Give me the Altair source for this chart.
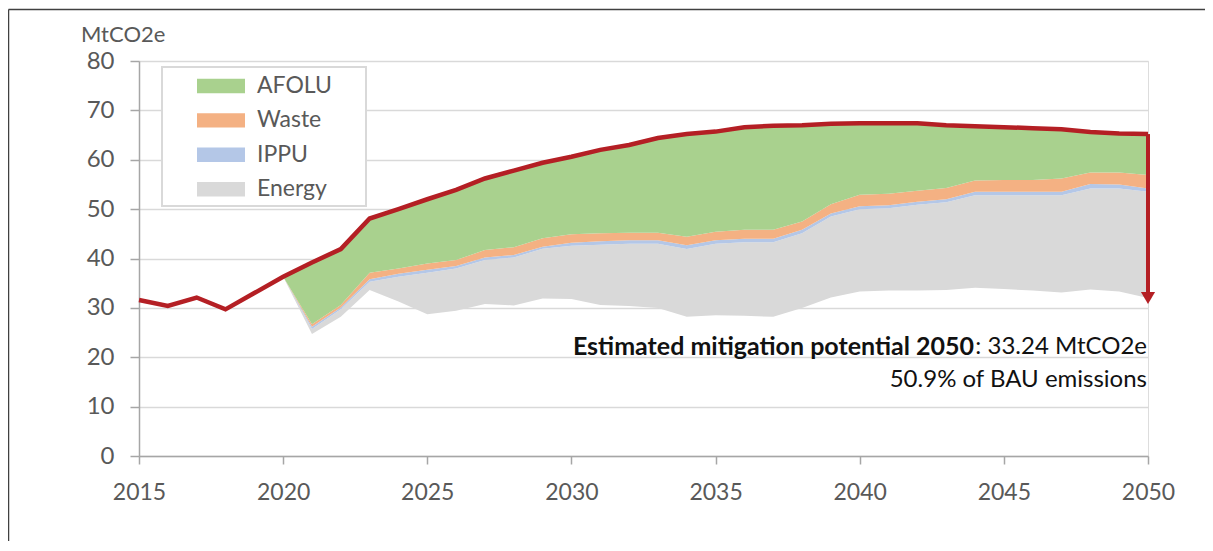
import altair as alt
import pandas as pd

# ---- data ----
bau_years = list(range(2015, 2051))
bau = [31.6, 30.4, 32.1, 29.7, 33.0, 36.3, 39.2, 41.9, 48.1, 50.0,
       52.0, 53.9, 56.2, 57.8, 59.4, 60.6, 62.0, 63.0, 64.4, 65.2,
       65.7, 66.6, 66.9, 67.0, 67.3, 67.4, 67.4, 67.4, 67.0, 66.8,
       66.6, 66.4, 66.2, 65.6, 65.3, 65.2]

years = list(range(2020, 2051))
# remaining emissions after mitigation (lower edge of the wedges)
base = [36.3, 24.7, 28.2, 33.6, 31.3, 28.7, 29.4, 30.8, 30.5, 31.9,
        31.8, 30.6, 30.4, 30.0, 28.2, 28.5, 28.4, 28.2, 30.0, 32.1,
        33.3, 33.5, 33.5, 33.6, 34.1, 33.8, 33.5, 33.1, 33.7, 33.3, 32.0]
energy = [0.0, 1.0, 1.5, 1.7, 5.0, 8.4, 8.6, 8.9, 9.7, 10.1,
          10.8, 12.2, 12.6, 13.0, 13.7, 14.5, 14.9, 15.1, 15.1, 16.4,
          16.7, 16.7, 17.4, 17.8, 18.7, 19.0, 19.3, 19.7, 20.5, 20.9, 21.5]
ippu = [0.0, 0.5, 0.4, 0.5, 0.6, 0.6, 0.5, 0.5, 0.5, 0.4,
        0.6, 0.7, 0.7, 0.7, 0.8, 0.7, 0.7, 0.7, 0.7, 0.6,
        0.6, 0.6, 0.6, 0.6, 0.7, 0.7, 0.7, 0.7, 0.9, 0.8, 0.7]
waste = [0.0, 0.5, 0.5, 1.3, 1.1, 1.3, 1.2, 1.5, 1.6, 1.7,
         1.7, 1.6, 1.5, 1.5, 1.7, 1.7, 1.8, 1.8, 1.7, 1.9,
         2.3, 2.3, 2.2, 2.3, 2.3, 2.4, 2.4, 2.7, 2.3, 2.4, 2.7]
afolu = [0.0, 12.5, 11.3, 11.0, 12.0, 13.0, 14.2, 14.5, 15.5, 15.3,
         15.7, 16.9, 17.8, 19.2, 20.8, 20.3, 20.8, 21.1, 19.5, 16.3,
         14.5, 14.3, 13.7, 12.7, 11.0, 10.7, 10.5, 10.0, 8.2, 7.9, 8.3]

sectors = ["AFOLU", "Waste", "IPPU", "Energy"]
sector_colors = ["#A9D18E", "#F4B183", "#B4C7E7", "#D9D9D9"]

annot_bold = "Estimated mitigation potential 2050"
annot_regular = ": 33.24 MtCO2e"
annot_line2 = "50.9% of BAU emissions"
unit_label = "MtCO2e"

RED = "#B41F24"
FONT = "Lato"
GREY_TXT = "#595959"

# ---- tables ----
series = {"Base": base, "Energy": energy, "IPPU": ippu, "Waste": waste, "AFOLU": afolu}
stack_order = {"Base": 0, "Energy": 1, "IPPU": 2, "Waste": 3, "AFOLU": 4}
rows = []
for name, vals in series.items():
    for yr, v in zip(years, vals):
        rows.append({"year": yr, "sector": name, "value": v, "ord": stack_order[name]})
bands_df = pd.DataFrame(rows)
bau_df = pd.DataFrame({"year": bau_years, "bau": bau})
arrow_df = pd.DataFrame({"year": [years[-1]], "top": [bau[-1]], "bottom": [base[-1]]})
one = pd.DataFrame({"a": [0]})

xscale = alt.Scale(domain=[2015, 2050], nice=False, zero=False)
yscale = alt.Scale(domain=[0, 80], nice=False)

x_axis = alt.Axis(values=list(range(2015, 2051, 5)), format="d", title=None,
                  grid=False, labelFont=FONT, labelFontSize=23, labelColor=GREY_TXT,
                  tickSize=8, tickColor="#A6A6A6", tickWidth=1.5,
                  domainColor="#A6A6A6", domainWidth=1.5, labelPadding=17,
                  labelFlush=False, labelOverlap=False)
y_axis = alt.Axis(values=list(range(0, 81, 10)), title=None, grid=True,
                  gridColor="#D9D9D9", gridWidth=1.5,
                  labelFont=FONT, labelFontSize=24, labelColor=GREY_TXT,
                  tickSize=9, tickColor="#A6A6A6", tickWidth=1.5,
                  domainColor="#A6A6A6", domainWidth=1.5, labelPadding=16)

# outer frame (left and top edges), kept inside the drawing surface
frame_top = alt.Chart(one).mark_rule(color="#404040", strokeWidth=1.5).encode(
    x=alt.value(-130.5), x2=alt.value(1066), y=alt.value(-51.5))
frame_left = alt.Chart(one).mark_rule(color="#404040", strokeWidth=1.5).encode(
    x=alt.value(-130.5), y=alt.value(-51.5), y2=alt.value(480))

legend_box = alt.Chart(one).mark_rect(fill="white", stroke="#D9D9D9", strokeWidth=2).encode(
    x=alt.value(23), x2=alt.value(227), y=alt.value(6), y2=alt.value(145))

bands = alt.Chart(bands_df).transform_stack(
    stack="value", groupby=["year"], as_=["lo", "hi"],
    sort=[alt.SortField("ord", order="ascending")]
).transform_filter(alt.datum.sector != "Base").mark_area(opacity=1, interpolate="linear").encode(
    x=alt.X("year:Q", scale=xscale, axis=x_axis),
    y=alt.Y("lo:Q", scale=yscale, axis=y_axis),
    y2="hi:Q",
    color=alt.Color("sector:N",
                    scale=alt.Scale(domain=sectors, range=sector_colors),
                    legend=alt.Legend(orient="none", legendX=70.5, legendY=13.5, title=None,
                                      symbolType="M-2.087,-0.626H2.087V0.626H-2.087Z",
                                      symbolSize=529, symbolStrokeWidth=0, symbolOpacity=1,
                                      labelFont=FONT, labelFontSize=23, labelColor=GREY_TXT,
                                      labelOffset=24.5, rowPadding=10.4, padding=0)),
)

bau_line = alt.Chart(bau_df).mark_line(color=RED, strokeWidth=4.5, strokeJoin="miter").encode(
    x=alt.X("year:Q", scale=xscale),
    y=alt.Y("bau:Q", scale=yscale),
)

arrow_shaft = alt.Chart(arrow_df).mark_rule(color=RED, strokeWidth=4).encode(
    x=alt.X("year:Q", scale=xscale),
    y=alt.Y("top:Q", scale=yscale),
    y2="bottom:Q",
)
arrow_head = alt.Chart(arrow_df).mark_point(shape="triangle-down", filled=True, color=RED,
                                            opacity=1, size=200).encode(
    x=alt.X("year:Q", scale=xscale),
    y=alt.Y("bottom:Q", scale=yscale),
)

unit_text = alt.Chart(one).mark_text(text=unit_label, font=FONT, fontSize=22, color=GREY_TXT,
                                     align="left", baseline="middle").encode(
    x=alt.value(-58), y=alt.value(-26))

t_bold = alt.Chart(one).mark_text(text=annot_bold, font=FONT, fontSize=25, fontWeight="bold",
                                  color="#111111", align="right", baseline="middle").encode(
    x=alt.value(835), y=alt.value(286))
t_reg = alt.Chart(one).mark_text(text=annot_regular, font=FONT, fontSize=24, color="#111111",
                                 align="right", baseline="middle").encode(
    x=alt.value(1008), y=alt.value(286))
t_line2 = alt.Chart(one).mark_text(text=annot_line2, font=FONT, fontSize=24, color="#111111",
                                   align="right", baseline="middle").encode(
    x=alt.value(1008), y=alt.value(319))

chart = alt.layer(
    frame_top, frame_left, legend_box, bands, bau_line, arrow_shaft, arrow_head,
    unit_text, t_bold, t_reg, t_line2
).properties(
    width=1009, height=395,
    padding={"left": 131, "top": 53, "right": 57, "bottom": 85},
    autosize=alt.AutoSizeParams(type="none"),
).configure_view(stroke=None).configure(background="white")

chart.save("out.html", embed_options={"renderer": "svg", "actions": False})
